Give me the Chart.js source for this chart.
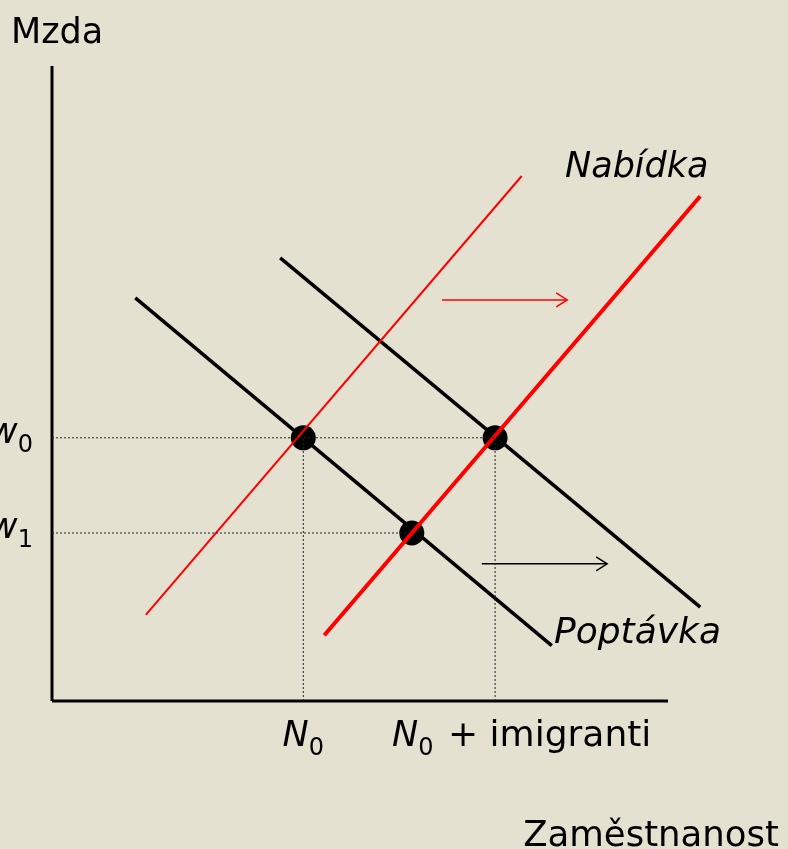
<!DOCTYPE html>
<html>
<head>
<meta charset="utf-8">
<script src="https://cdn.jsdelivr.net/npm/chart.js@4"></script>
<style>
  body { margin: 0; background: #e4e1d1; }
  canvas { display: block; }
</style>
</head>
<body>
<canvas id="trh-prace" width="788" height="849"></canvas>
<script>
// Data (jednotky grafu: x = zaměstnanost, y = mzda)
const supplyOld = [[13.4, 12.3], [67.1, 75]];
const supplyNew = [[38.9, 9.4], [92.6, 72.1]];
const demandOld = [[11.9, 57.6], [71.4, 7.9]];
const demandNew = [[32.6, 63.3], [92.6, 13.4]];
const equilibria = [[35.9, 37.6], [63.3, 37.6], [51.4, 24]];
const wageLevels = [37.6, 24];
const wageSubs = ['0', '1'];
const employmentLevels = [35.9, 63.3];
const employmentRest = ['', ' + imigranti'];
const supplyArrow = [55.7, 73.6, 57.3];   // x od, x do, y
const demandArrow = [61.4, 79.3, 19.6];
const axisEnds = [88, 90.7];              // konec osy x, konec osy y
const curveLabels = ['Nabídka', 'Poptávka'];

const pts = arr => arr.map(p => ({x: p[0], y: p[1]}));

function arrowHead(a) {
    return [{x: a[1] - 1.57, y: a[2] + 1.0}, {x: a[1], y: a[2]}, {x: a[1] - 1.57, y: a[2] - 1.0}];
}

function seg(data, color, width, dash) {
    return {
        type: 'scatter', data: data, showLine: true, borderColor: color,
        borderWidth: width, borderDash: dash || [], pointRadius: 0, clip: false,
        borderCapStyle: 'butt'
    };
}

const datasets = [
    // vodicí tečkované čáry
    seg([{x: 0, y: wageLevels[0]}, {x: equilibria[1][0], y: wageLevels[0]}], '#222', 1, [2, 2]),
    seg([{x: 0, y: wageLevels[1]}, {x: equilibria[2][0], y: wageLevels[1]}], '#222', 1, [2, 2]),
    seg([{x: employmentLevels[0], y: 0}, {x: employmentLevels[0], y: wageLevels[0]}], '#222', 1, [2, 2]),
    seg([{x: employmentLevels[1], y: 0}, {x: employmentLevels[1], y: wageLevels[0]}], '#222', 1, [2, 2]),
    // osy
    seg([{x: 0, y: 0}, {x: 0, y: axisEnds[1]}], '#000', 3),
    seg([{x: 0, y: 0}, {x: axisEnds[0], y: 0}], '#000', 3),
    // křivky
    seg(pts(supplyOld), '#ff0000', 2),
    seg(pts(supplyNew), '#ff0000', 4),
    seg(pts(demandOld), '#000', 3.5),
    seg(pts(demandNew), '#000', 3.5),
    // šipky posunu
    seg([{x: supplyArrow[0], y: supplyArrow[2]}, {x: supplyArrow[1], y: supplyArrow[2]}], '#ff0000', 1.5),
    seg(arrowHead(supplyArrow), '#ff0000', 1.5),
    seg([{x: demandArrow[0], y: demandArrow[2]}, {x: demandArrow[1], y: demandArrow[2]}], '#000', 1.5),
    seg(arrowHead(demandArrow), '#000', 1.5),
    // rovnováhy
    {
        type: 'scatter', data: pts(equilibria), pointRadius: 12.5, pointHoverRadius: 12.5,
        backgroundColor: '#000', borderColor: '#000', borderWidth: 0, clip: false
    }
];

const FONT = '"DejaVu Sans", Verdana, sans-serif';

function drawSub(ctx, x, y, main, sub, rest, italic) {
    ctx.textAlign = 'left';
    ctx.font = (italic ? 'italic ' : '') + '35px ' + FONT;
    ctx.fillText(main, x, y);
    let w = ctx.measureText(main).width;
    ctx.font = '24px ' + FONT;
    ctx.fillText(sub, x + w, y + 9);
    w += ctx.measureText(sub).width;
    if (rest) {
        ctx.font = '36px ' + FONT;
        ctx.fillText(rest, x + w + 3, y);
        w += ctx.measureText(rest).width + 3;
    }
    return w;
}

function measureSub(ctx, main, sub, italic) {
    ctx.font = (italic ? 'italic ' : '') + '35px ' + FONT;
    let w = ctx.measureText(main).width;
    ctx.font = '24px ' + FONT;
    return w + ctx.measureText(sub).width;
}

const labelsPlugin = {
    id: 'popisky',
    beforeDraw(chart) {
        const ctx = chart.ctx;
        ctx.save();
        ctx.fillStyle = '#e4e1d1';
        ctx.fillRect(0, 0, chart.width, chart.height);
        ctx.restore();
    },
    afterDraw(chart) {
        const ctx = chart.ctx;
        const xs = chart.scales.x, ys = chart.scales.y;
        ctx.save();
        ctx.fillStyle = '#000';
        ctx.textBaseline = 'alphabetic';

        // názvy os
        ctx.font = '35px ' + FONT;
        ctx.textAlign = 'left';
        ctx.fillText('Mzda', 11, 43);
        ctx.textAlign = 'right';
        ctx.font = '35.5px ' + FONT;
        ctx.fillText('Zaměstnanost', 779, 846);

        // mzdy
        wageLevels.forEach((v, i) => {
            const w = measureSub(ctx, 'w', wageSubs[i], true);
            drawSub(ctx, 33 - w, ys.getPixelForValue(v) + 5, 'w', wageSubs[i], '', true);
        });

        // zaměstnanost
        const base = ys.getPixelForValue(0) + 45;
        const n0w = measureSub(ctx, 'N', '0', true);
        drawSub(ctx, xs.getPixelForValue(employmentLevels[0]) - n0w / 2, base, 'N', '0', employmentRest[0], true);
        drawSub(ctx, xs.getPixelForValue(employmentLevels[1]) - 103, base, 'N', '0', employmentRest[1], true);

        // popisky křivek
        ctx.font = 'italic 35px ' + FONT;
        ctx.textAlign = 'left';
        ctx.fillText(curveLabels[0], 565, 177);
        ctx.font = 'italic 36px ' + FONT;
        ctx.fillText(curveLabels[1], 554, 643);
        ctx.restore();
    }
};

new Chart(document.getElementById('trh-prace').getContext('2d'), {
    type: 'scatter',
    data: { datasets: datasets },
    options: {
        responsive: false,
        animation: false,
        events: [],
        layout: { autoPadding: false, padding: { left: 52, right: 36, top: 1, bottom: 148 } },
        scales: {
            x: { type: 'linear', min: 0, max: 100, display: false },
            y: { type: 'linear', min: 0, max: 100, display: false }
        },
        plugins: {
            legend: { display: false },
            tooltip: { enabled: false }
        }
    },
    plugins: [labelsPlugin]
});
</script>
</body>
</html>
